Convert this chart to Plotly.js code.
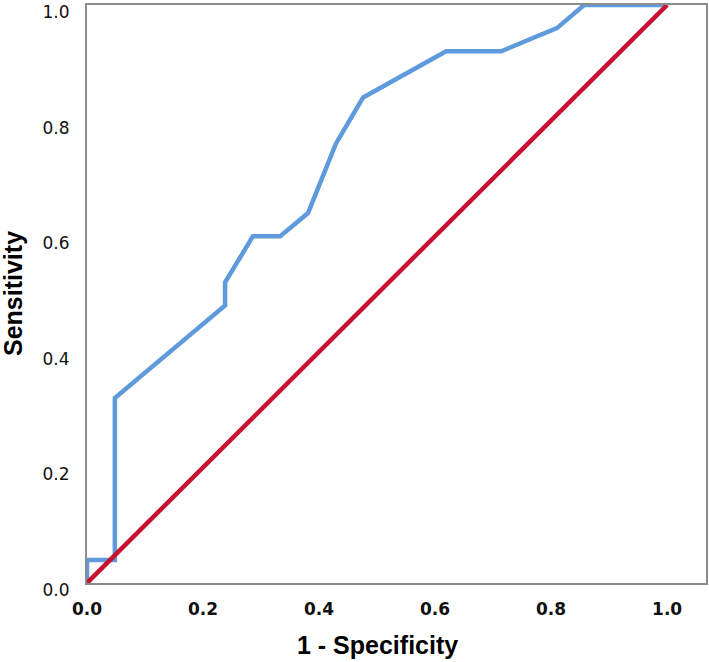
<!DOCTYPE html>
<html>
<head>
<meta charset="utf-8">
<script src="https://cdn.plot.ly/plotly-3.0.1.min.js"></script>
<style>
  html, body { margin: 0; padding: 0; background: #fff; }
  #roc { width: 709px; height: 662px; }
</style>
</head>
<body>
<div id="roc"></div>
<script>
// ROC curve points (1 - specificity, sensitivity)
const fpr = [0, 0, 0.048, 0.048, 0.238, 0.238, 0.286, 0.333, 0.381, 0.429, 0.476, 0.619, 0.714, 0.810, 0.857, 1.0];
const tpr = [0, 0.04, 0.04, 0.32, 0.48, 0.52, 0.60, 0.60, 0.64, 0.76, 0.84, 0.92, 0.92, 0.96, 1.0, 1.0];

// reference diagonal
const refX = [0, 1];
const refY = [0, 1];

const tickVals = [0, 0.2, 0.4, 0.6, 0.8, 1.0];
const tickText = ["0.0", "0.2", "0.4", "0.6", "0.8", "1.0"];

const rocTrace = {
  x: fpr,
  y: tpr,
  mode: "lines",
  type: "scatter",
  line: { color: "rgb(94,154,220)", width: 4.5, shape: "linear" },
  hoverinfo: "x+y",
  showlegend: false
};

const refTrace = {
  x: refX,
  y: refY,
  mode: "lines",
  type: "scatter",
  line: { color: "rgb(200,16,48)", width: 4.5 },
  hoverinfo: "skip",
  showlegend: false
};

const layout = {
  width: 709,
  height: 662,
  margin: { l: 87, r: 3, t: 5, b: 79 },
  paper_bgcolor: "#fff",
  plot_bgcolor: "#fff",
  xaxis: {
    range: [0, 1.067],
    tickvals: tickVals,
    ticktext: tickText,
    ticks: "",
    showgrid: false,
    zeroline: false,
    showline: true,
    mirror: true,
    linecolor: "#8c8c8c",
    linewidth: 2,
    ticklabelstandoff: 10,
    tickfont: { family: "DejaVu Sans", size: 17, color: "#111", weight: "bold" },
    fixedrange: true
  },
  yaxis: {
    range: [0, 1],
    tickvals: tickVals,
    ticktext: tickText,
    ticks: "",
    showgrid: false,
    zeroline: false,
    showline: true,
    mirror: true,
    linecolor: "#8c8c8c",
    linewidth: 2,
    ticklabelstandoff: 12,
    ticklabelshift: 7,
    ticklabeloverflow: "allow",
    tickfont: { family: "DejaVu Sans", size: 17, color: "#111" },
    fixedrange: true
  },
  annotations: [
    {
      text: "1 - Specificity",
      xref: "x", yref: "paper",
      x: 0.5, y: 0,
      xanchor: "center", yanchor: "middle",
      yshift: -62,
      showarrow: false,
      font: { family: "Liberation Sans", size: 25, color: "#000", weight: "bold" }
    },
    {
      text: "Sensitivity",
      xref: "paper", yref: "paper",
      x: 0, y: 0.5,
      xanchor: "center", yanchor: "middle",
      xshift: -74,
      textangle: -90,
      showarrow: false,
      font: { family: "Liberation Sans", size: 25, color: "#000", weight: "bold" }
    }
  ]
};

Plotly.newPlot("roc", [rocTrace, refTrace], layout, { displayModeBar: false, staticPlot: true });
</script>
</body>
</html>
